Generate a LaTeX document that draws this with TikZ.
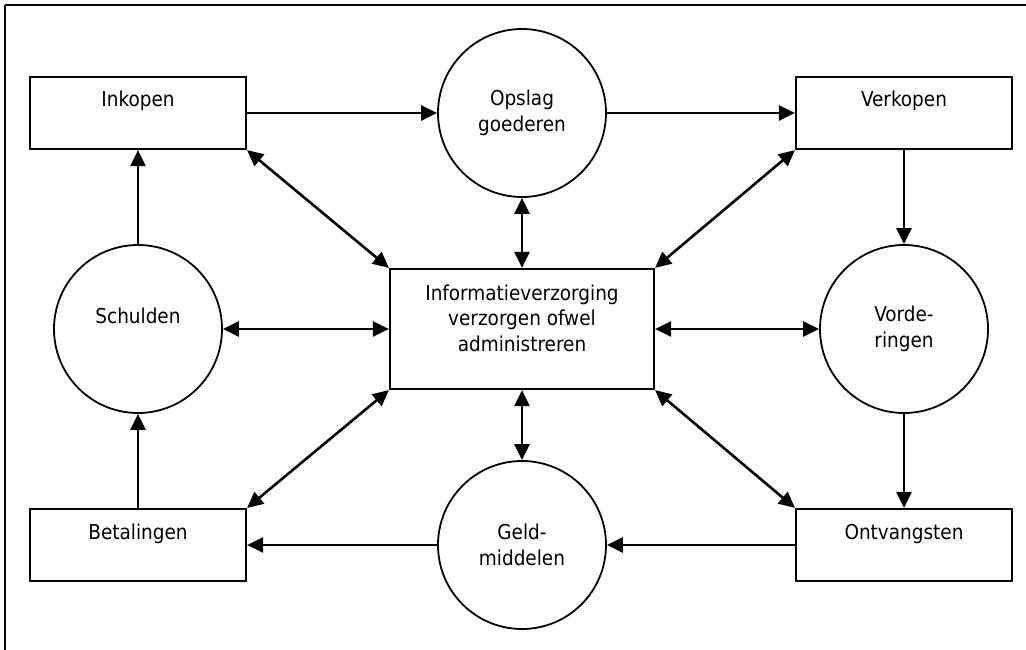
\documentclass[tikz,border=0pt]{standalone}
\usepackage{fontspec}
\setmainfont{DejaVu Sans Condensed}
\usetikzlibrary{arrows.meta}
\tikzstyle{activity}=[circle, draw, line width=1.8pt, minimum size=168pt, inner sep=0pt, align=center]
\tikzstyle{flowbox}=[rectangle, draw, line width=2.2pt, minimum width=216pt, minimum height=72pt, inner sep=0pt]
\tikzstyle{toptext}=[text height=15pt, text depth=27pt]
\tikzstyle{arrow}=[-{Triangle[length=16pt,width=15pt]}, line width=2.6pt]
\tikzstyle{twoway}=[{Triangle[length=16pt,width=15pt]}-{Triangle[length=16pt,width=15pt]}, line width=2.6pt]
\tikzstyle{border}=[draw, line width=2.2pt]

\begin{document}
\begin{tikzpicture}[x=1pt, y=-1pt, font=\fontsize{20.5}{25.5}\selectfont]
      \clip (0,0) rectangle (1026,650);

      \node[flowbox, toptext] (inkopen) at (138,113) {Inkopen};
      \node[activity] (opslag) at (522,113) {Opslag\\goederen};
      \node[flowbox, toptext] (verkopen) at (904,113) {Verkopen};
      \node[activity, toptext] (schulden) at (138,329) {Schulden};
      \node[flowbox, minimum width=264pt, minimum height=120pt, align=center, text depth=22pt] (info) at (522,329) {Informatieverzorging\\verzorgen ofwel\\administreren};
      \node[activity] (vorderingen) at (904,329) {Vorde-\\ringen};
      \node[flowbox, toptext] (betalingen) at (138,545) {Betalingen};
      \node[activity] (geld) at (522,545) {Geld-\\middelen};
      \node[flowbox, toptext] (ontvangsten) at (904,545) {Ontvangsten};

      % goods and money cycle
      \foreach \a/\b in {inkopen/opslag, opslag/verkopen, verkopen/vorderingen,
        vorderingen/ontvangsten, ontvangsten/geld, geld/betalingen,
        betalingen/schulden, schulden/inkopen}{
        \draw[arrow] (\a) -- (\b);
      }

      \foreach \n in {opslag, schulden, vorderingen, geld}{
        \draw[twoway] (info) -- (\n);
      }

      \draw[twoway] (info.north west) -- (inkopen.south east);
      \draw[twoway] (info.north east) -- (verkopen.south west);
      \draw[twoway] (info.south west) -- (betalingen.north east);
      \draw[twoway] (info.south east) -- (ontvangsten.north west);

      \path[border] (5,5) -- (1040,5) -- (1040,665) -- (5,665) -- (5,5);
\end{tikzpicture}
\end{document}
